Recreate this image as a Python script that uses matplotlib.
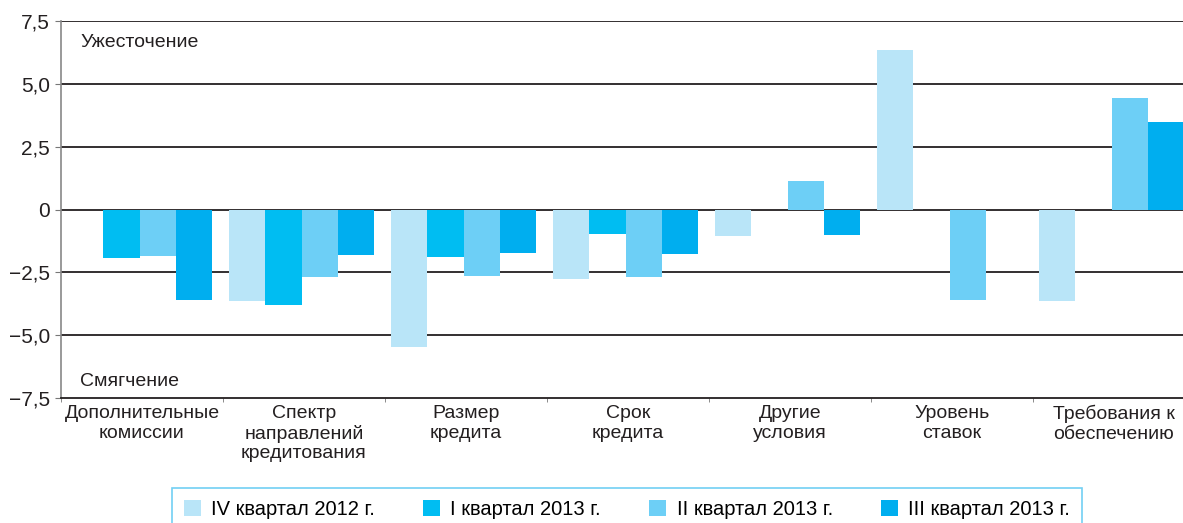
import matplotlib

matplotlib.use("Agg")
import matplotlib.pyplot as plt
import numpy as np
from matplotlib.patches import Patch

plt.rcParams["font.family"] = ["Liberation Sans", "DejaVu Sans"]

categories = [
    "Дополнительные\nкомиссии",
    "Спектр\nнаправлений\nкредитования",
    "Размер\nкредита",
    "Срок\nкредита",
    "Другие\nусловия",
    "Уровень\nставок",
    "Требования к\nобеспечению",
]
series_names = [
    "IV квартал 2012 г.",
    "I квартал 2013 г.",
    "II квартал 2013 г.",
    "III квартал 2013 г.",
]
q4_2012 = [0.0, -3.65, -5.48, -2.77, -1.06, 6.35, -3.64]
q1_2013 = [-1.93, -3.8, -1.9, -0.98, 0.0, 0.0, 0.0]
q2_2013 = [-1.87, -2.69, -2.66, -2.69, 1.12, -3.6, 4.44]
q3_2013 = [-3.6, -1.83, -1.75, -1.77, -1.02, 0.0, 3.49]
series = [q4_2012, q1_2013, q2_2013, q3_2013]
colors = ["#b9e5f8", "#00bdf2", "#6dcff6", "#00aeef"]

yticks = [-7.5, -5.0, -2.5, 0.0, 2.5, 5.0, 7.5]
ytick_labels = ["\u22127,5", "\u22125,0", "\u22122,5", "0", "2,5", "5,0", "7,5"]

DARK = "#231f20"

fig = plt.figure(figsize=(11.83, 5.23), dpi=100)
ax = fig.add_axes([61 / 1183, 125 / 523, 1134 / 1183, 377 / 523])

x = np.arange(len(categories))
width = 0.224
start = -0.463
for k, (vals, col) in enumerate(zip(series, colors)):
    ax.bar(x + start + width * (k + 0.5), vals, width=width, color=col,
           linewidth=0, zorder=3)

ax.set_xlim(-0.5, len(categories) - 0.5)
ax.set_ylim(-7.5, 7.5)
ax.set_yticks(yticks)
ax.set_yticklabels(ytick_labels, fontsize=15, color=DARK)
for y in yticks[1:]:
    ax.axhline(y, color=DARK, linewidth=1.3, zorder=2)

ax.set_xticks(x)
ax.set_xticklabels(categories, fontsize=14, color=DARK, linespacing=1.2)
ax.set_xticks(np.arange(len(categories) + 1) - 0.5, minor=True)
ax.tick_params(axis="x", which="major", length=0, pad=5)
ax.tick_params(axis="x", which="minor", length=3, color="#777777", direction="out")
ax.tick_params(axis="y", length=4, color="#777777", pad=4)

for side in ("top", "right"):
    ax.spines[side].set_visible(False)
ax.spines["left"].set_color("#888888")
ax.spines["left"].set_linewidth(1.2)
ax.spines["bottom"].set_color(DARK)
ax.spines["bottom"].set_linewidth(1.3)

ax.text(-0.38, 6.65, "Ужесточение", fontsize=14, color=DARK, va="center")
ax.text(-0.38, -6.85, "Смягчение", fontsize=14, color=DARK, va="center")

handles = [Patch(facecolor=c, edgecolor="none") for c in colors]
leg = fig.legend(handles, series_names, loc="lower center", ncol=4,
                 bbox_to_anchor=(0.530, -0.035), frameon=True, fancybox=False,
                 handlelength=0.85, handleheight=0.85,
                 handletextpad=0.5, columnspacing=2.4, borderpad=0.6,
                 prop={"size": 14.5})
leg.get_frame().set_edgecolor("#4fc4f0")
leg.get_frame().set_linewidth(1.2)

fig.savefig("out.png", dpi=100)
